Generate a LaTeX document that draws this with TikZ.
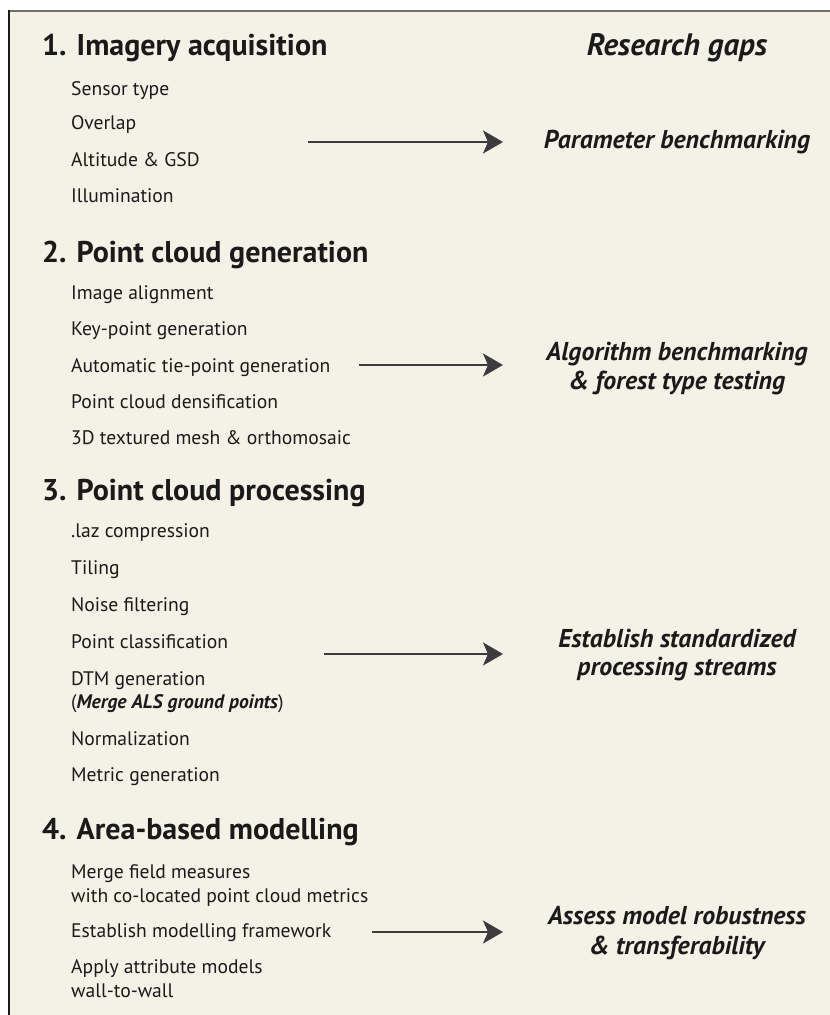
\documentclass[tikz,border=0pt]{standalone}
\usepackage{fontspec}
\setmainfont{PT Sans}
\usetikzlibrary{arrows.meta}
\definecolor{paper}{RGB}{244,241,230}
\definecolor{ink}{RGB}{26,26,26}
\definecolor{arrowgrey}{RGB}{60,60,62}
\definecolor{framegrey}{RGB}{112,112,112}

\begin{document}
\begin{tikzpicture}[x=1pt,y=1pt,yscale=-1,
  head/.style={anchor=base west,inner sep=0pt,text=ink,font=\fontsize{30}{33}\selectfont\bfseries},
  item/.style={anchor=base west,inner sep=0pt,text=ink,font=\fontsize{19.6}{23}\selectfont},
  gap/.style={anchor=base,inner sep=0pt,text=ink,font=\fontsize{25.8}{30}\selectfont\bfseries\itshape},
  link/.style={draw=arrowgrey,line width=2.4pt,-{Stealth[length=20pt,width=23pt,inset=5pt]}}]
\useasboundingbox (0,0) rectangle (830,1015);

%Background and frame
\fill[paper] (9,11) rectangle (830,1015);
\draw[framegrey,line width=2pt] (8,11) -- (830,11);
\draw[ink,line width=2pt] (9,10) -- (9,1015);

%Research gaps title
\node[gap,font=\fontsize{31}{34}\selectfont\bfseries\itshape] (gaps) at (677,55) {Research gaps};

%1. Imagery acquisition
\node[head] (h1) at (42,55) {1. Imagery acquisition};
\node[item] (sensor) at (71,95) {Sensor type};
\node[item] (overlap) at (71,129) {Overlap};
\node[item] (altitude) at (71,166) {Altitude \& GSD};
\node[item] (illum) at (71,202) {Illumination};
\node[gap] (param) at (677,148) {Parameter benchmarking};
\coordinate (s1) at (308,142);
\coordinate (e1) at (503,142);
\draw[link] (s1) -- (e1);

%2. Point cloud generation
\node[head] (h2) at (42,262) {2. Point cloud generation};
\node[item] (align) at (71,299) {Image alignment};
\node[item] (keypt) at (71,335) {Key-point generation};
\node[item] (tiept) at (71,372) {Automatic tie-point generation};
\node[item] (dense) at (71,408) {Point cloud densification};
\node[item] (mesh) at (71,444) {3D textured mesh \& orthomosaic};
\node[gap] (algo) at (677,360) {Algorithm benchmarking};
\node[gap] (forest) at (677,389) {\& forest type testing};
\coordinate (s2) at (359,365);
\coordinate (e2) at (503,365);
\draw[link] (s2) -- (e2);

%3. Point cloud processing
\node[head] (h3) at (42,500) {3. Point cloud processing};
\node[item] (laz) at (71,537) {.laz compression};
\node[item] (tiling) at (71,574) {Tiling};
\node[item] (noise) at (71,611) {Noise filtering};
\node[item] (classif) at (71,648) {Point classification};
\node[item] (dtm) at (71,685) {DTM generation};
\node[item] (als) at (71,708) {(\textbf{\textit{Merge ALS ground points}})};
\node[item] (norm) at (71,745) {Normalization};
\node[item] (metric) at (71,781) {Metric generation};
\node[gap] (stand) at (677,647) {Establish standardized};
\node[gap] (streams) at (677,675) {processing streams};
\coordinate (s3) at (324,654);
\coordinate (e3) at (503,654);
\draw[link] (s3) -- (e3);

%4. Area-based modelling
\node[head] (h4) at (42,839) {4. Area-based modelling};
\node[item] (merge) at (71,878) {Merge field measures};
\node[item] (coloc) at (71,902) {with co-located point cloud metrics};
\node[item] (frame) at (71,937) {Establish modelling framework};
\node[item] (apply) at (71,973) {Apply attribute models};
\node[item] (wall) at (71,997) {wall-to-wall};
\node[gap] (assess) at (677,924) {Assess model robustness};
\node[gap] (transf) at (677,954) {\& transferability};
\coordinate (s4) at (372,932);
\coordinate (e4) at (503,932);
\draw[link] (s4) -- (e4);

\end{tikzpicture}
\end{document}
